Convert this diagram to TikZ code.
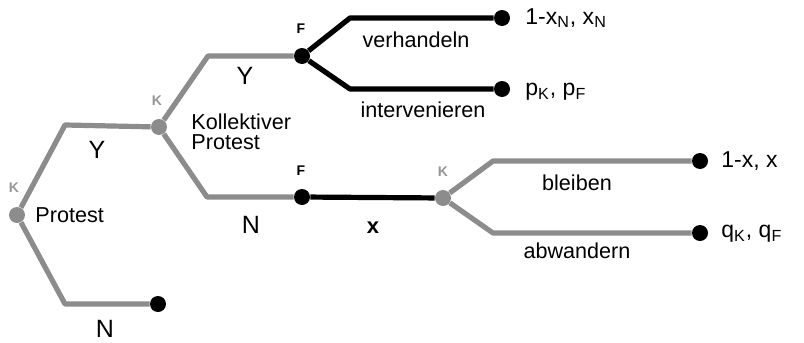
\documentclass[tikz,border=0pt]{standalone}
\usepackage{fontspec}
\setmainfont{Liberation Sans}
\usepackage{xcolor}
\definecolor{gry}{RGB}{140,140,140}
\definecolor{lgry}{RGB}{150,150,150}
\tikzset{gdot/.style={circle,fill=gry,inner sep=0pt,minimum size=8pt},
bdot/.style={circle,fill=black,inner sep=0pt,minimum size=8pt},
gline/.style={gry,line width=2.6pt,line join=round},
bline/.style={black,line width=2.6pt,line join=round},
who/.style={font=\fontsize{7}{8}\selectfont\bfseries,inner sep=0pt},
act/.style={font=\fontsize{10.8}{12}\selectfont,inner sep=0pt},
mv/.style={font=\fontsize{12.5}{14}\selectfont,inner sep=0pt},
pay/.style={font=\fontsize{11.5}{13}\selectfont,inner sep=0pt,anchor=west}}

\begin{document}
\begin{tikzpicture}[x=0.5pt,y=-0.5pt]
\useasboundingbox (0,0) rectangle (804,343);
\node[gdot] (k1) at (17,215) {};
\node[gdot] (k2) at (159,127) {};
\node[gdot] (k3) at (443,198) {};
\node[bdot] (f1) at (302,56) {};
\node[bdot] (f2) at (302,197) {};
\node[bdot] (e1) at (158,304) {};
\node[bdot] (e2) at (502,18) {};
\node[bdot] (e3) at (502,89) {};
\node[bdot] (e4) at (700,161) {};
\node[bdot] (e5) at (700,233) {};
\coordinate (c1) at (65,125);
\coordinate (c2) at (65,304);
\coordinate (c3) at (208,56);
\coordinate (c4) at (207,197);
\coordinate (c5) at (350,18);
\coordinate (c6) at (350,89);
\coordinate (c7) at (493,161);
\coordinate (c8) at (493,233);
\draw[gline] (k1) -- (c1) -- (k2);
\draw[gline] (k1) -- (c2) -- (e1);
\draw[gline] (k2) -- (c3) -- (f1);
\draw[gline] (k2) -- (c4) -- (f2);
\draw[gline] (k3) -- (c7) -- (e4);
\draw[gline] (k3) -- (c8) -- (e5);
\draw[bline] (f1) -- (c5) -- (e2);
\draw[bline] (f1) -- (c6) -- (e3);
\draw[bline] (f2) -- (k3);
\node[who,lgry] (lk1) at (14,188) {K};
\node[who,lgry] (lk2) at (157,101) {K};
\node[who,lgry] (lk3) at (443,172) {K};
\node[who] (lf1) at (301,29) {F};
\node[who] (lf2) at (301,171) {F};
\node[act,anchor=west] (prot) at (35,215) {Protest};
\node[act,anchor=north west,align=left] (kprot) at (191,113) {Kollektiver\\[-1.6pt]Protest};
\node[mv] (y1) at (97,150) {Y};
\node[mv] (n1) at (105,329) {N};
\node[mv] (y2) at (245,76) {Y};
\node[mv] (n2) at (251,225) {N};
\node[mv,font=\fontsize{11}{13}\selectfont\bfseries] (xx) at (373,228) {x};
\node[act] (verh) at (416,40) {verhandeln};
\node[act] (interv) at (423,110) {intervenieren};
\node[act] (bleib) at (577,183) {bleiben};
\node[act] (abw) at (577,251) {abwandern};
\node[pay] (p1) at (525,18) {1-x\textsubscript{N}, x\textsubscript{N}};
\node[pay] (p2) at (525,92) {p\textsubscript{K}, p\textsubscript{F}};
\node[pay] (p3) at (721,161) {1-x, x};
\node[pay] (p4) at (721,234) {q\textsubscript{K}, q\textsubscript{F}};
\end{tikzpicture}
\end{document}
